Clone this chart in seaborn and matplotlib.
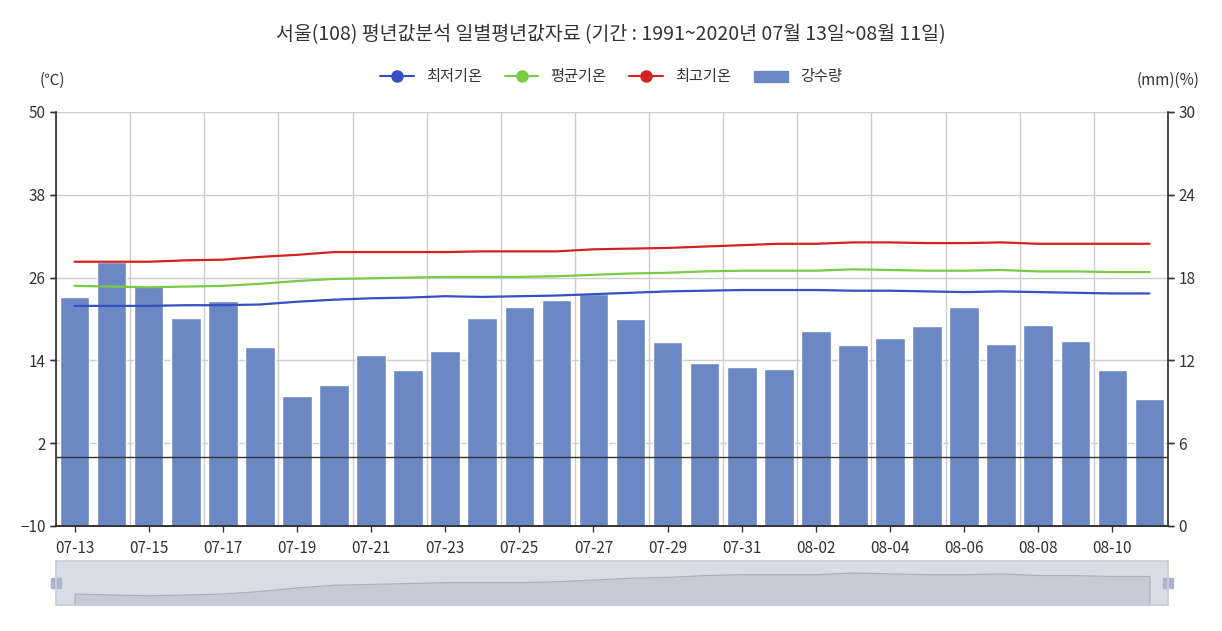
import matplotlib
matplotlib.use("Agg")
import matplotlib.pyplot as plt
import seaborn as sns
import numpy as np
import pandas as pd
from matplotlib.lines import Line2D
from matplotlib.patches import Patch

sns.set_theme(style="white")
plt.rcParams['font.family'] = ['Noto Sans CJK KR', 'DejaVu Sans']

dates = ["07-13","07-14","07-15","07-16","07-17","07-18","07-19","07-20","07-21","07-22",
         "07-23","07-24","07-25","07-26","07-27","07-28","07-29","07-30","07-31","08-01",
         "08-02","08-03","08-04","08-05","08-06","08-07","08-08","08-09","08-10","08-11"]
rain = [16.6,19.1,17.4,15.1,16.3,13.0,9.4,10.2,12.4,11.3,12.7,15.1,15.9,16.4,16.8,15.0,13.3,11.8,11.5,11.4,
        14.1,13.1,13.6,14.5,15.9,13.2,14.6,13.4,11.3,9.2]
tmax = [28.3,28.3,28.3,28.5,28.6,29.0,29.3,29.7,29.7,29.7,29.7,29.8,29.8,29.8,30.1,30.2,30.3,30.5,30.7,30.9,
        30.9,31.1,31.1,31.0,31.0,31.1,30.9,30.9,30.9,30.9]
tmean = [24.8,24.7,24.6,24.7,24.8,25.1,25.5,25.8,25.9,26.0,26.1,26.1,26.1,26.2,26.4,26.6,26.7,26.9,27.0,27.0,
         27.0,27.2,27.1,27.0,27.0,27.1,26.9,26.9,26.8,26.8]
tmin = [21.9,21.9,21.9,22.0,22.0,22.1,22.5,22.8,23.0,23.1,23.3,23.2,23.3,23.4,23.6,23.8,24.0,24.1,24.2,24.2,
        24.2,24.1,24.1,24.0,23.9,24.0,23.9,23.8,23.7,23.7]

df = pd.DataFrame({"x": np.arange(len(dates)), "rain": rain, "tmax": tmax, "tmean": tmean, "tmin": tmin})
C_BAR, C_MIN, C_MEAN, C_MAX = "#6C88C4", "#3550C0", "#7ACB45", "#D42222"

fig = plt.figure(figsize=(12.22, 6.31), dpi=100)
ax2 = fig.add_axes([56/1222, 1-526/631, 1112/1222, 414/631])
ax = ax2.twinx()
# left temperature axis is ax (on top); move spines
ax2.yaxis.tick_right(); ax2.yaxis.set_label_position("right")
ax.yaxis.tick_left()

sns.barplot(data=df, x="x", y="rain", color=C_BAR, width=0.8, saturation=1, ax=ax2, native_scale=True, zorder=2)
ax2.set_ylim(0, 30); ax2.set_yticks([0, 6, 12, 18, 24, 30])
ax2.set_xlim(-0.5, len(dates)-0.5)
for t in [-10, 2, 14, 26, 38, 50]:
    ax2.axhline((t+10)/2, color="#cccccc", lw=1, zorder=0)
for b in np.arange(-0.5, len(dates), 2):
    ax2.axvline(b, color="#cccccc", lw=1, zorder=0)

for col, c in [("tmin", C_MIN), ("tmean", C_MEAN), ("tmax", C_MAX)]:
    sns.lineplot(data=df, x="x", y=col, color=c, lw=1.6, ax=ax)
ax.axhline(0, color="#333333", lw=1)
ax.set_ylim(-10, 50); ax.set_yticks([-10, 2, 14, 26, 38, 50])
ax.set_xlim(-0.5, len(dates)-0.5)
ax.set_xticks(df["x"][::2]); ax.set_xticklabels(dates[::2])
ax2.set_xticks(df["x"][::2]); ax2.set_xticklabels(dates[::2])
ax.xaxis.set_visible(False)
for a in (ax, ax2):
    a.set_xlabel(""); a.set_ylabel("")
    for s in a.spines.values():
        s.set_color("#333333")
    a.spines["top"].set_visible(False)
    a.tick_params(colors="#333333", labelsize=11, length=4, width=1,
                  left=True, right=True, bottom=True)
ax2.tick_params(axis="x", pad=6)
ax.spines["right"].set_visible(False)
ax2.spines["left"].set_visible(False)

fig.text(0.5, 1-35/631, "서울(108) 평년값분석 일별평년값자료 (기간 : 1991~2020년 07월 13일~08월 11일)",
         ha="center", va="center", fontsize=14, color="#333333")
fig.text(40/1222, 1-80/631, "(℃)", fontsize=11, color="#333333", va="center")
fig.text(1200/1222, 1-80/631, "(mm)(%)", fontsize=11, color="#333333", va="center", ha="right")
handles = [Line2D([], [], color=C_MIN, marker="o", ms=8, lw=1.5),
           Line2D([], [], color=C_MEAN, marker="o", ms=8, lw=1.5),
           Line2D([], [], color=C_MAX, marker="o", ms=8, lw=1.5),
           Patch(color=C_BAR)]
fig.legend(handles, ["최저기온", "평균기온", "최고기온", "강수량"], loc="center", ncol=4,
           bbox_to_anchor=(0.5, 1-77/631), frameon=False, fontsize=11, handlelength=2.2,
           columnspacing=1.5, labelcolor="#333333")

# data zoom slider
axz = fig.add_axes([56/1222, 1-605/631, 1112/1222, 44/631])
axz.set_facecolor("#D7DCE6")
axz.fill_between(df["x"], df["tmean"], 0, color="#C5CAD6", lw=0.8, edgecolor="#A8AEBD")
axz.set_xlim(-0.5, len(dates)-0.5); axz.set_ylim(23.5, 28.5)
axz.set_xticks([]); axz.set_yticks([])
for s in axz.spines.values():
    s.set_color("#C9CED9")
for xx in (-0.5, len(dates)-0.5):
    axz.plot([xx], [26], marker="s", ms=7, color="#AAB3C8", clip_on=False)

fig.savefig("out.png", dpi=100)
